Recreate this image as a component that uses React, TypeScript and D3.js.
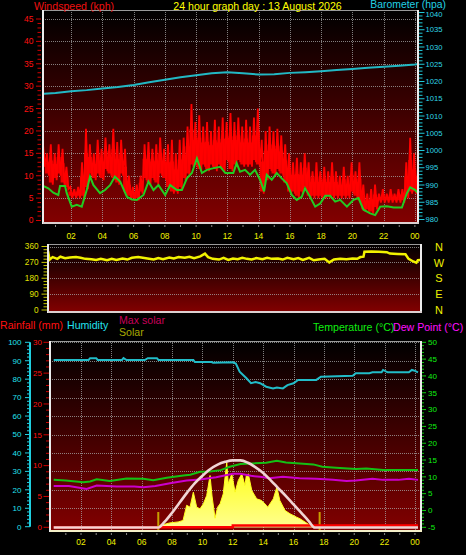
import React from 'react';
import * as d3 from 'd3';

const W = 466, H = 555;
const FONT = 'Liberation Sans, Arial, sans-serif';

const hourTicks = [2, 4, 6, 8, 10, 12, 14, 16, 18, 20, 22, 24];
const hourLabels = ['02', '04', '06', '08', '10', '12', '14', '16', '18', '20', '22', '00'];
const allHours = d3.range(1, 25);

// ---- Panel 1: barometer (hPa) ----
const baroTime = [0.2, 1, 2, 3, 4, 5, 6, 7, 8, 9, 10, 11, 12, 13, 14, 15, 16, 17, 18, 19, 20, 21, 22, 23, 24, 24.2];
const baroValue = [1016.4, 1016.7, 1017.2, 1017.5, 1018.0, 1018.4, 1019.0, 1019.8, 1020.5, 1021.2, 1021.8, 1022.4, 1022.7, 1022.4, 1022.0, 1022.1, 1022.5, 1022.7, 1023.0, 1023.3, 1023.6, 1024.0, 1024.3, 1024.6, 1024.9, 1025.0];

// ---- Panel 1: wind gust (kph) envelope, every 15 min from 00:12 ----
const gustStart = 0.2;
const gustStep = 0.25;
const gustHigh = [
  17, 15, 17, 15, 17, 16, 12, 7.5, 7, 7.5, 13, 20.5, 17, 15, 18, 16,
  18.5, 17, 20.5, 17.5, 18, 16, 10, 7.5, 8, 10, 17, 17.5, 16, 17, 18.5, 16,
  17, 18, 15, 18, 18.5, 21, 26, 22, 23.5, 21, 22, 20, 22.5, 21, 23, 22,
  24, 22, 23, 21, 22.5, 21, 23, 25, 18, 20, 21, 20, 20.5, 19, 17, 15,
  13, 14, 13, 15, 13, 11, 13, 11, 12, 11, 13, 11, 10, 12, 10, 13,
  11, 13, 8, 6, 7, 8, 6, 7, 6, 7, 6, 7, 7, 13, 18.5, 15, 12,
];
const gustLow = [
  12, 10, 8, 9, 10, 8, 7, 5, 5, 5, 5, 7, 10, 9, 10, 9,
  11, 10, 9, 8, 10, 6, 5, 4.5, 4.5, 6, 9, 8, 9, 8, 10, 9,
  7, 6, 6, 7, 9, 10, 12, 12, 11, 12, 11, 12, 11, 12, 11, 13,
  11, 12, 13, 12, 12, 12, 13, 12, 6, 9, 11, 10, 11, 10, 8, 6,
  6, 5, 6, 7, 5, 5, 5, 5, 5, 5, 5, 5, 5, 5, 5, 6,
  5, 4, 2, 2, 1.5, 2.5, 4, 4, 4, 4, 4, 4, 4, 5, 6, 6, 7,
];

// ---- Panel 1: average wind (kph) ----
const windAvgTime = [0.2, 0.54, 0.86, 1.18, 1.29, 1.61, 1.72, 2.04, 2.36, 2.68, 3.0, 3.21, 3.43, 3.85, 4.17, 4.49, 4.8, 5.14, 5.57, 5.89, 6.21, 6.63, 6.95, 7.27, 7.59, 8.02, 8.34, 8.77, 9.09, 9.41, 9.73, 10.05, 10.37, 10.69, 11.12, 11.55, 11.87, 12.19, 12.38, 12.59, 12.81, 13.13, 13.45, 13.77, 14.09, 14.35, 14.52, 14.84, 15.16, 15.48, 15.8, 16.12, 16.44, 16.76, 16.97, 17.29, 17.62, 17.94, 18.26, 18.58, 18.9, 19.22, 19.65, 20.07, 20.39, 20.71, 21.14, 21.46, 21.78, 22.21, 22.64, 23.17, 23.49, 23.7, 24.03, 24.2];
const windAvgValue = [7.7, 7.2, 6.2, 5.7, 7.7, 7.7, 6.1, 3.1, 3.5, 3.1, 6.8, 9.8, 7.9, 6.1, 6.8, 7.9, 9.8, 8.7, 5.3, 4.7, 4.6, 5.7, 8.7, 6.8, 7.9, 5.7, 7.9, 6.8, 6.8, 9.4, 10.6, 13.9, 10.6, 11.3, 11.7, 12.0, 10.6, 10.6, 10.6, 12.8, 10.9, 11.3, 10.2, 11.3, 9.1, 6.5, 10.2, 9.1, 10.6, 9.4, 8.3, 5.7, 4.6, 5.3, 7.2, 5.3, 3.1, 3.8, 5.5, 5.5, 4.2, 4.6, 3.1, 4.6, 5.0, 2.4, 1.6, 1.2, 3.1, 3.2, 2.9, 2.9, 6.1, 7.4, 6.8, 6.1];

// ---- Panel 2: wind direction (degrees) ----
const dirTime = [0.2, 0.3, 0.5, 0.8, 1.0, 1.3, 1.6, 2.0, 2.3, 2.6, 3.0, 3.3, 3.6, 4.0, 4.3, 4.6, 5.0, 5.3, 5.6, 6.0, 6.3, 6.6, 7.0, 7.3, 7.6, 8.0, 8.3, 8.6, 9.0, 9.3, 9.6, 10.0, 10.3, 10.5, 10.8, 11.2, 11.5, 11.8, 12.1, 12.4, 12.7, 13.0, 13.3, 13.6, 14.0, 14.3, 14.6, 15.0, 15.3, 15.6, 16.0, 16.3, 16.6, 17.0, 17.3, 17.6, 18.0, 18.3, 18.6, 19.0, 19.4, 19.8, 20.1, 20.3, 20.5, 20.56, 21.0, 21.5, 22.0, 22.2, 22.7, 23.2, 23.4, 23.7, 23.9, 24.0, 24.2];
const dirValue = [335, 285, 300, 290, 302, 294, 298, 300, 296, 290, 288, 284, 290, 282, 290, 284, 292, 286, 296, 300, 296, 292, 286, 294, 288, 298, 292, 300, 296, 302, 294, 304, 320, 300, 290, 286, 296, 284, 292, 288, 296, 290, 286, 294, 288, 296, 290, 292, 286, 296, 288, 294, 284, 296, 282, 286, 290, 270, 286, 290, 288, 292, 290, 300, 302, 330, 331, 330, 328, 320, 318, 316, 290, 275, 268, 282, 285];
const dirTickValues = [0, 90, 180, 270, 360];
const compass = ['N', 'W', 'S', 'E', 'N'];
const compassDeg = [360, 270, 180, 90, 0];

// ---- Panel 3: humidity (%) ----
const humTime = [0.2, 2.5, 2.6, 3.0, 3.1, 4.7, 4.8, 5.0, 6.2, 6.4, 7.0, 7.1, 9.4, 9.5, 10.6, 10.7, 12.0, 12.2, 12.45, 12.9, 13.2, 13.5, 13.8, 14.2, 14.65, 14.9, 15.3, 15.6, 16.0, 16.3, 17.5, 17.8, 19.9, 20.1, 21.0, 21.2, 21.8, 21.9, 22.2, 23.6, 23.8, 24.0, 24.2];
const humValue = [90.4, 90.4, 91.4, 91.4, 90.4, 90.4, 91.4, 90.4, 90.4, 91.4, 91.4, 90.4, 90.4, 89.3, 89.3, 88.9, 89.2, 88.5, 84.1, 80.5, 77.8, 78.5, 77.8, 75.9, 75.0, 75.5, 75.0, 76.8, 77.8, 79.6, 79.6, 81.3, 81.8, 83.2, 83.2, 83.7, 83.7, 85.0, 83.7, 83.7, 85.0, 84.5, 83.7];

// ---- Panel 3: temperature & dew point (°C) ----
const tempTime = [0.2, 1.0, 2.15, 2.6, 3.03, 3.9, 5.0, 6.1, 6.76, 7.65, 8.74, 9.2, 9.84, 10.5, 11.2, 11.8, 12.5, 13.3, 14.2, 14.9, 15.5, 16.4, 17.3, 17.9, 18.8, 20.1, 20.8, 21.9, 23.0, 24.2];
const tempValue = [9.1, 8.9, 8.4, 8.6, 9.3, 8.8, 9.5, 9.4, 9.0, 9.7, 10.4, 10.6, 11.5, 11.6, 12.0, 13.0, 13.8, 14.0, 14.2, 14.8, 14.3, 14.0, 13.7, 13.0, 12.7, 12.3, 12.5, 12.0, 12.0, 12.0];
const dewTime = [0.2, 1.2, 2.37, 3.03, 4.35, 5.5, 6.1, 6.9, 7.86, 8.96, 9.84, 10.9, 12.0, 12.5, 13.2, 13.8, 14.4, 15.3, 16.4, 17.5, 18.6, 19.5, 20.1, 21.2, 21.9, 22.9, 23.6, 24.2];
const dewValue = [7.3, 7.3, 6.4, 7.4, 7.1, 7.1, 6.9, 7.3, 8.1, 8.9, 9.2, 9.9, 10.9, 10.9, 10.3, 10.0, 9.6, 10.0, 9.6, 9.4, 9.1, 8.8, 8.9, 9.4, 9.1, 9.1, 9.4, 9.1];

// ---- Panel 3: solar (W/m²) and max solar ----
const solarTime = [7.09, 7.2, 7.86, 8.4, 8.72, 8.96, 9.18, 9.4, 9.62, 9.84, 10.06, 10.28, 10.5, 10.63, 10.83, 11.0, 11.16, 11.37, 11.6, 11.7, 11.93, 12.15, 12.36, 12.59, 12.8, 12.89, 13.02, 13.25, 13.57, 13.9, 14.22, 14.3, 14.67, 14.9, 15.1, 15.44, 15.77, 16.2, 16.43, 17.1, 17.4];
const solarValue = [0, 11, 25, 30, 38, 120, 110, 191, 110, 101, 128, 173, 281, 170, 50, 110, 128, 182, 353, 236, 290, 191, 254, 290, 227, 281, 290, 200, 155, 146, 119, 110, 155, 218, 146, 92, 74, 56, 47, 11, 0];
const maxSolarTime = [0.2, 7.1, 7.5, 8, 8.5, 9, 9.5, 10, 10.5, 11, 11.5, 12, 12.5, 13, 13.5, 14, 14.5, 15, 15.5, 16, 16.5, 17, 17.4, 24.2];
const maxSolarValue = [0, 0, 30, 80, 135, 190, 240, 280, 315, 340, 355, 363, 363, 350, 325, 295, 255, 212, 170, 125, 80, 35, 0, 0];
const sunEvents = [7.09, 17.72];

// ---- Panel 3: rainfall (mm) ----
const rainTime = [0.2, 12.0, 24.2];
const rainValue = [0, 0.3, 0.3];

const P1 = { l: 43, r: 418, t: 10, b: 223 };
const P2 = { l: 48, r: 421, t: 244, b: 312 };
const P3 = { l: 50, r: 421, t: 341, b: 531 };

function Border({ p, bottomColor = '#dcd0d0' }: { p: any; bottomColor?: string }) {
  return (
    <g>
      <line x1={p.l} x2={p.r} y1={p.t + 0.5} y2={p.t + 0.5} stroke="#9a9a9a" strokeWidth={1} />
      <line x1={p.l} x2={p.l} y1={p.t} y2={p.b + 1} stroke="#ececec" strokeWidth={2} />
      <line x1={p.r} x2={p.r} y1={p.t} y2={p.b + 1} stroke="#ececec" strokeWidth={2} />
      <line x1={p.l} x2={p.r + 1} y1={p.b} y2={p.b} stroke={bottomColor} strokeWidth={2} />
    </g>
  );
}

export default function App() {
  const x1 = d3.scaleLinear().domain([0.2, 24.2]).range([P1.l, P1.r]);
  const x2 = d3.scaleLinear().domain([0.2, 24.2]).range([P2.l, P2.r]);
  const x3 = d3.scaleLinear().domain([0.2, 24.2]).range([53.7, 418]);

  const windY = d3.scaleLinear().domain([0, 45]).range([220.5, 19]);
  const baroY = d3.scaleLinear().domain([980, 1040]).range([219.5, 12.5]);
  const dirY = d3.scaleLinear().domain([0, 360]).range([310, 246.5]);
  const humY = d3.scaleLinear().domain([0, 100]).range([526.7, 342.3]);
  const rainY = d3.scaleLinear().domain([0, 30]).range([527.3, 342.3]);
  const tempY = d3.scaleLinear().domain([-5, 50]).range([527.3, 342.3]);
  const solarY = d3.scaleLinear().domain([0, 1000]).range([527.5, 342.5]);

  const mk = (xs: any, ys: any, ts: number[], vs: number[], curve: any = d3.curveLinear) =>
    d3.line<number>().x((_, i) => xs(ts[i])).y((v) => ys(v)).curve(curve)(vs) || '';

  // gust zigzag
  const gustPts: [number, number][] = [];
  gustHigh.forEach((h, i) => {
    const t = gustStart + i * gustStep;
    gustPts.push([t, h]);
    gustPts.push([t + gustStep / 2, gustLow[i]]);
  });
  const gustPath = d3.line<[number, number]>().x((d) => x1(d[0])).y((d) => windY(d[1]))(gustPts) || '';
  // solid core of the gust band
  const gustCore = d3.area<number>()
    .x((_, i) => x1(gustStart + i * gustStep))
    .y0((_, i) => windY(gustLow[i] + 0.5))
    .y1((h, i) => windY(h - 0.4 * (h - gustLow[i])))
    .curve(d3.curveStep)(gustHigh) || '';

  const solarArea = d3.area<number>()
    .x((_, i) => x3(solarTime[i]))
    .y0(solarY(0))
    .y1((v) => solarY(v))(solarValue) || '';

  const gridStyle = { stroke: '#a8a8a8', strokeWidth: 1, strokeDasharray: '1,1', opacity: 0.75 };

  const windMinor = d3.range(0, 46, 1);
  const baroMinor = d3.range(980, 1041, 1);
  const dirMinor = d3.range(0, 361, 18);
  const humMinor = d3.range(0, 101, 2);
  const rainMinor = d3.range(0, 31, 1);
  const tempMinor = d3.range(-5, 51, 1);

  return (
    <svg width={W} height={H} style={{ position: 'absolute', left: 0, top: 0, display: 'block' }} fontFamily={FONT}>
      <defs>
        <linearGradient id="bg" x1="0" y1="0" x2="0" y2="1">
          <stop offset="0" stopColor="#000000" />
          <stop offset="1" stopColor="#820000" />
        </linearGradient>
        <linearGradient id="sol" gradientUnits="userSpaceOnUse" x1="0" y1="455" x2="0" y2="528">
          <stop offset="0" stopColor="#ffff00" />
          <stop offset="1" stopColor="#ffff90" />
        </linearGradient>
        <clipPath id="c1"><rect x={P1.l + 1} y={P1.t + 1} width={P1.r - P1.l - 2} height={P1.b - P1.t - 2} /></clipPath>
        <clipPath id="c2"><rect x={P2.l + 1} y={P2.t + 1} width={P2.r - P2.l - 2} height={P2.b - P2.t - 2} /></clipPath>
        <clipPath id="c3"><rect x={P3.l + 1} y={P3.t + 1} width={P3.r - P3.l - 2} height={P3.b - P3.t - 2} /></clipPath>
      </defs>
      <rect x={0} y={0} width={W} height={H} fill="#000" />

      {/* ================= PANEL 1 ================= */}
      <rect x={P1.l} y={P1.t} width={P1.r - P1.l} height={P1.b - P1.t} fill="url(#bg)" />
      <g clipPath="url(#c1)">
        {d3.range(5, 46, 5).map((v) => (
          <line key={'g1h' + v} x1={P1.l} x2={P1.r} y1={Math.round(windY(v)) + 0.5} y2={Math.round(windY(v)) + 0.5} {...gridStyle} />
        ))}
        {hourTicks.map((h) => (
          <line key={'g1v' + h} x1={Math.round(x1(h)) + 0.5} x2={Math.round(x1(h)) + 0.5} y1={P1.t} y2={P1.b} {...gridStyle} />
        ))}
        <path d={mk(x1, baroY, baroTime, baroValue)} fill="none" stroke="#22b8c4" strokeWidth={2} />
        <path d={gustCore} fill="#f00000" />
        <path d={gustPath} fill="none" stroke="#ff0000" strokeWidth={1.8} />
        <path d={mk(x1, windY, windAvgTime, windAvgValue)} fill="none" stroke="#22cc22" strokeWidth={2} />
      </g>
      <Border p={P1} />
      {/* left wind axis */}
      {windMinor.map((v) => (
        <line key={'wt' + v} x1={v % 5 === 0 ? 36 : 37.5} x2={41} y1={windY(v)} y2={windY(v)} stroke="#d00000" strokeWidth={1} />
      ))}
      {d3.range(0, 46, 5).map((v) => (
        <text key={'wl' + v} x={33.5} y={windY(v)} dy="0.35em" textAnchor="end" fontSize={8.5} fill="#ff1010">{v}</text>
      ))}
      {/* right baro axis */}
      {baroMinor.map((v) => (
        <line key={'bt' + v} x1={419} x2={v % 5 === 0 ? 424.5 : 422.5} y1={baroY(v)} y2={baroY(v)} stroke="#20c8d8" strokeWidth={1} />
      ))}
      {d3.range(980, 1036, 5).map((v) => (
        <text key={'bl' + v} x={425.5} y={baroY(v)} dy="0.35em" fontSize={7.6} fill="#30d8e8">{v}</text>
      ))}
      <text x={425.5} y={baroY(1040) + 4.5} fontSize={7.6} fill="#30d8e8">1040</text>
      {allHours.map((h) => (
        <line key={'h1' + h} x1={x1(h)} x2={x1(h)} y1={225} y2={227} stroke="#888" strokeWidth={1} />
      ))}
      {hourTicks.map((h, i) => (
        <text key={'hl1' + h} x={x1(h)} y={239} textAnchor="middle" fontSize={8.5} fill="#f0f000">{hourLabels[i]}</text>
      ))}
      <text x={34} y={9.5} fontSize={10.6} fill="#ee1111">Windspeed (kph)</text>
      <text x={257.5} y={9.5} textAnchor="middle" fontSize={10.6} fill="#ffff00">24 hour graph day : 13 August 2026</text>
      <text x={446} y={7.5} textAnchor="end" fontSize={10.4} fill="#22d0e4">Barometer (hpa)</text>

      {/* ================= PANEL 2 ================= */}
      <rect x={P2.l} y={P2.t} width={P2.r - P2.l} height={P2.b - P2.t} fill="url(#bg)" />
      <g clipPath="url(#c2)">
        {[90, 180, 270, 360].map((v) => (
          <line key={'g2' + v} x1={P2.l} x2={P2.r} y1={Math.round(dirY(v)) + 0.5} y2={Math.round(dirY(v)) + 0.5} {...gridStyle} />
        ))}
        <path d={mk(x2, dirY, dirTime, dirValue)} fill="none" stroke="#f2f200" strokeWidth={2.5} />
      </g>
      <Border p={P2} />
      {dirMinor.map((v) => (
        <line key={'dt' + v} x1={v % 90 === 0 ? 41.5 : 43.5} x2={47} y1={dirY(v)} y2={dirY(v)} stroke="#c8c800" strokeWidth={1} />
      ))}
      {dirTickValues.map((v) => (
        <text key={'dl' + v} x={38.5} y={dirY(v)} dy="0.35em" textAnchor="end" fontSize={8.2} fill="#e0e000">{v}</text>
      ))}
      {compass.map((c, i) => (
        <text key={'cp' + i} x={439} y={dirY(compassDeg[i])} dy="0.38em" textAnchor="middle" fontSize={11} fill="#f0f000">{c}</text>
      ))}

      {/* ================= PANEL 3 ================= */}
      <text x={0} y={329} fontSize={10.6} fill="#ff1010">Rainfall (mm)</text>
      <text x={67} y={329} fontSize={10.6} fill="#22e0f0">Humidity</text>
      <text x={119} y={324} fontSize={10.6} fill="#c8005a">Max solar</text>
      <text x={119} y={335.5} fontSize={10.6} fill="#a8a800">Solar</text>
      <text x={313} y={331} fontSize={10.6} fill="#10ee10">Temperature (°C)</text>
      <text x={393} y={331} fontSize={10.6} fill="#ff10ff">Dew Point (°C)</text>

      <rect x={P3.l} y={P3.t} width={P3.r - P3.l} height={P3.b - P3.t} fill="url(#bg)" />
      <g clipPath="url(#c3)">
        {d3.range(10, 101, 10).map((v) => (
          <line key={'g3h' + v} x1={P3.l} x2={P3.r} y1={Math.round(humY(v)) + 0.5} y2={Math.round(humY(v)) + 0.5} {...gridStyle} />
        ))}
        {hourTicks.map((h) => (
          <line key={'g3v' + h} x1={Math.round(x3(h)) + 0.5} x2={Math.round(x3(h)) + 0.5} y1={P3.t} y2={P3.b} {...gridStyle} />
        ))}
        <path d={mk(x3, humY, humTime, humValue)} fill="none" stroke="#22bcc8" strokeWidth={2} />
        <path d={solarArea} fill="url(#sol)" />
        <path d={mk(x3, solarY, solarTime, solarValue)} fill="none" stroke="#ffff20" strokeWidth={1} />
        <path d={mk(x3, tempY, tempTime, tempValue)} fill="none" stroke="#14c014" strokeWidth={2} />
        <path d={mk(x3, tempY, dewTime, dewValue)} fill="none" stroke="#cc00cc" strokeWidth={2} />
        {sunEvents.map((h) => (
          <line key={'sun' + h} x1={x3(h)} x2={x3(h)} y1={512} y2={530} stroke="#c8a000" strokeWidth={2} />
        ))}
        <path d={mk(x3, rainY, rainTime, rainValue, d3.curveStepAfter)} fill="none" stroke="#ff0000" strokeWidth={2.5} />
        <path d={mk(x3, solarY, maxSolarTime, maxSolarValue, d3.curveMonotoneX)} fill="none" stroke="#f0d4d4" strokeWidth={2.6} />
      </g>
      <Border p={P3} bottomColor="#f4f0c8" />
      {/* humidity axis */}
      <line x1={30} x2={30} y1={humY(100)} y2={humY(0)} stroke="#20d0e0" strokeWidth={2} />
      {humMinor.map((v) => (
        <line key={'ht' + v} x1={v % 10 === 0 ? 25 : 27} x2={30} y1={humY(v)} y2={humY(v)} stroke="#20d0e0" strokeWidth={1} />
      ))}
      {d3.range(0, 101, 10).map((v) => (
        <text key={'hl' + v} x={21.5} y={humY(v)} dy="0.35em" textAnchor="end" fontSize={8} fill="#22e0f0">{v}</text>
      ))}
      {/* rain axis */}
      {rainMinor.map((v) => (
        <line key={'rt' + v} x1={v % 5 === 0 ? 43.5 : 46} x2={49} y1={rainY(v)} y2={rainY(v)} stroke="#d00000" strokeWidth={1} />
      ))}
      {d3.range(0, 31, 5).map((v) => (
        <text key={'rl' + v} x={42} y={rainY(v)} dy="0.35em" textAnchor="end" fontSize={8} fill="#ff1010">{v}</text>
      ))}
      {/* temperature axis */}
      {tempMinor.map((v) => (
        <line key={'tt' + v} x1={422} x2={v % 5 === 0 ? 426 : 424} y1={tempY(v)} y2={tempY(v)} stroke="#10d010" strokeWidth={1} />
      ))}
      {d3.range(-5, 51, 5).map((v) => (
        <text key={'tl' + v} x={428} y={tempY(v)} dy="0.35em" fontSize={8} fill="#10ee10">{v}</text>
      ))}
      {allHours.map((h) => (
        <line key={'h3' + h} x1={x3(h)} x2={x3(h)} y1={533} y2={535} stroke="#888" strokeWidth={1} />
      ))}
      {hourTicks.map((h, i) => (
        <text key={'hl3' + h} x={x3(h)} y={545} textAnchor="middle" fontSize={8.5} fill="#f0f000">{hourLabels[i]}</text>
      ))}
    </svg>
  );
}
